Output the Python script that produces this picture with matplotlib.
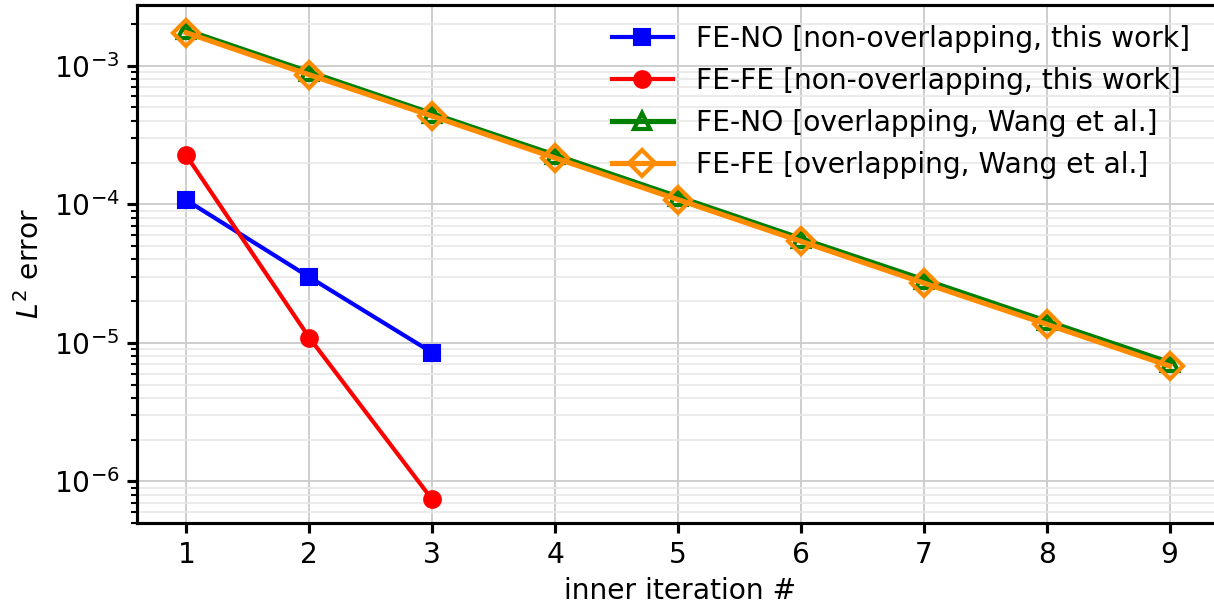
import numpy as np
import matplotlib.pyplot as plt

# inner iteration index
iters_nonoverlap = [1, 2, 3]
iters_overlap = [1, 2, 3, 4, 5, 6, 7, 8, 9]

# L2 errors
err_feno_nonoverlap = [1.07e-4, 2.98e-5, 8.5e-6]
err_fefe_nonoverlap = [2.25e-4, 1.09e-5, 7.4e-7]
err_feno_overlap = [1.80e-3, 9.0e-4, 4.5e-4, 2.26e-4, 1.13e-4, 5.65e-5, 2.85e-5, 1.43e-5, 7.2e-6]
err_fefe_overlap = [1.73e-3, 8.6e-4, 4.33e-4, 2.16e-4, 1.08e-4, 5.4e-5, 2.7e-5, 1.36e-5, 6.8e-6]

labels = [
    "FE-NO [non-overlapping, this work]",
    "FE-FE [non-overlapping, this work]",
    "FE-NO [overlapping, Wang et al.]",
    "FE-FE [overlapping, Wang et al.]",
]

plt.rcParams["font.size"] = 13.5

fig, ax = plt.subplots(figsize=(1214 / 150, 604 / 150), dpi=150)
# the right spine is cropped off in the reference
fig.subplots_adjust(left=0.113, right=1.008, top=0.992, bottom=0.134)

ax.plot(iters_nonoverlap, err_feno_nonoverlap, "-s", color="blue", lw=2, ms=8,
        label=labels[0])
ax.plot(iters_nonoverlap, err_fefe_nonoverlap, "-o", color="red", lw=2, ms=8,
        label=labels[1])
ax.plot(iters_overlap, err_feno_overlap, "-^", color="green", lw=2.5, ms=8,
        mfc="none", mew=2, label=labels[2])
ax.plot(iters_overlap, err_fefe_overlap, "-D", color="darkorange", lw=2.5, ms=8.5,
        mfc="none", mew=2, label=labels[3])

ax.set_yscale("log")
ax.set_xlim(0.6, 9.44)
ax.set_ylim(5.0e-7, 2.75e-3)
ax.set_xticks(iters_overlap)

ax.grid(True, which="major", color="#cccccc", lw=0.9)
ax.grid(True, which="minor", axis="y", color="#e8e8e8", lw=0.8)
ax.set_axisbelow(True)

for s in ax.spines.values():
    s.set_linewidth(1.5)
ax.tick_params(which="major", width=1.5, length=5)
ax.tick_params(which="minor", width=1.0, length=3)

ax.set_xlabel("inner iteration #")
ax.set_ylabel("$L^2$ error")

ax.legend(loc="upper right", frameon=False, handlelength=2.2,
          borderaxespad=0.3, bbox_to_anchor=(0.987, 1.0))

plt.savefig("out.png", dpi=150)
